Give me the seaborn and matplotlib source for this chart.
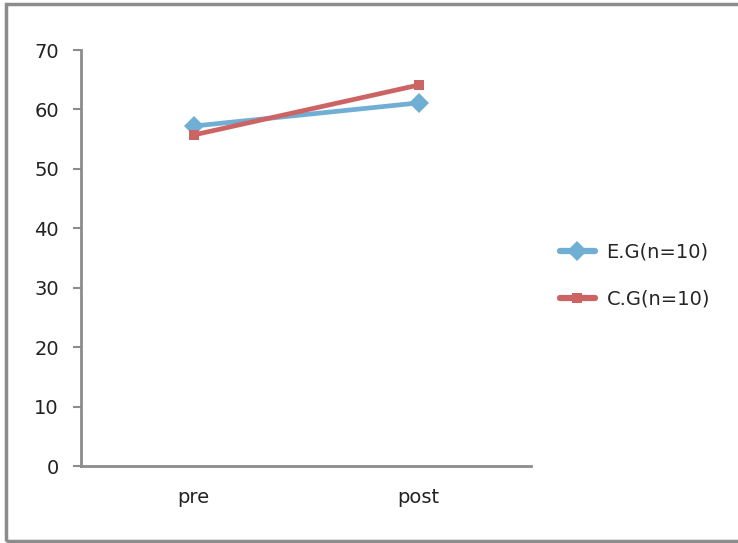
import pandas as pd
import seaborn as sns
import matplotlib.pyplot as plt
from matplotlib.patches import Rectangle

# data
phases = ['pre', 'post']
eg_scores = [57.2, 61.1]
cg_scores = [55.7, 64.1]
groups = ['E.G(n=10)', 'C.G(n=10)']

df = pd.DataFrame({
    'phase': phases * 2,
    'score': eg_scores + cg_scores,
    'group': [groups[0]] * 2 + [groups[1]] * 2,
})

sns.set_style('white')
plt.rcParams['font.family'] = ['DejaVu Sans']

fig = plt.figure(figsize=(7.38, 5.43), dpi=100)
ax = fig.add_axes([0.1098, 0.1418, 0.6097, 0.7661])

palette = {groups[0]: '#70afd3', groups[1]: '#cd6464'}
sns.lineplot(data=df, x='phase', y='score', hue='group', style='group',
             markers={groups[0]: 'D', groups[1]: 's'}, dashes=False,
             palette=palette, linewidth=3.4, ax=ax, sort=False)
for line in ax.lines:
    if line.get_marker() == 'D':
        line.set_markersize(10)
    else:
        line.set_markersize(7)
    line.set_markeredgewidth(0)

ax.set_xlim(-0.5, 1.5)
ax.set_ylim(0, 70)
ax.set_yticks(range(0, 71, 10))
ax.set_xlabel('')
ax.set_ylabel('')
for side in ['top', 'right']:
    ax.spines[side].set_visible(False)
for side in ['left', 'bottom']:
    ax.spines[side].set_color('#8c8c8c')
    ax.spines[side].set_linewidth(2)
ax.tick_params(axis='y', which='major', left=True, length=6, width=1.5,
               color='#8c8c8c', labelsize=14, pad=10, labelcolor='#222222')
ax.tick_params(axis='x', bottom=False, labelsize=14, pad=12, labelcolor='#222222')

leg = ax.legend(loc='center left', bbox_to_anchor=(1.047, 0.458), frameon=False,
                fontsize=14, handlelength=1.8, labelspacing=1.45, handletextpad=0.6,
                borderaxespad=0)
for h in leg.legend_handles:
    h.set_linewidth(4.5)

# outer chart border (right edge runs off the image)
fig.patches.append(Rectangle((6 / 738, 2 / 543), 740 / 738, 537 / 543,
                             transform=fig.transFigure, fill=False,
                             edgecolor='#8c8c8c', linewidth=2.5))

fig.savefig('out.png', dpi=100)
